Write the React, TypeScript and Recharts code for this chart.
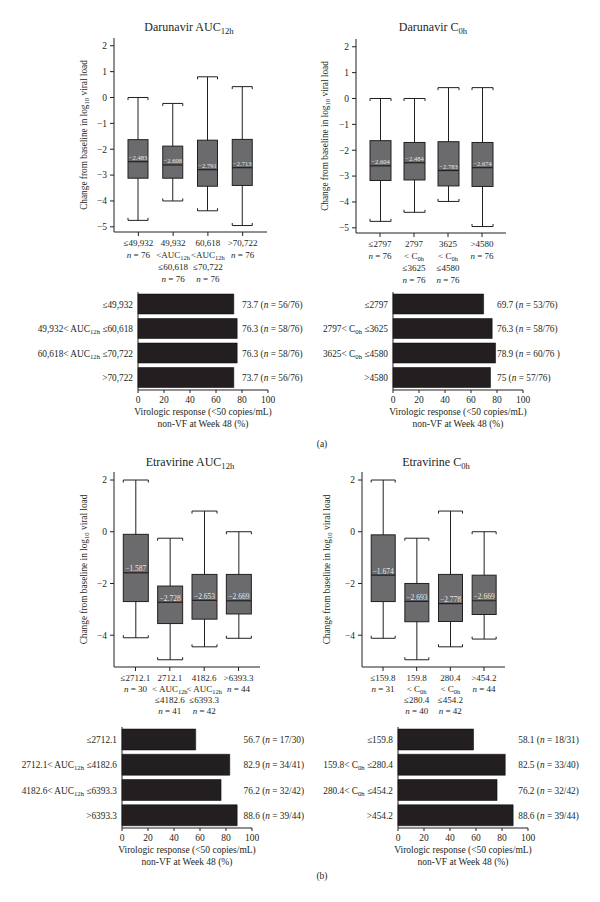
import React from "react"
import { Bar, BarChart, ComposedChart, LabelList, XAxis, YAxis } from "recharts"

const FONT = "'Liberation Serif', 'Times New Roman', serif"
const INK = "#231f20"
const BOX_FILL = "#6b6b6d"

// ---- Darunavir AUC12h ----
const darAucGroups = [
  ["≤49,932", "~n~ = 76"],
  ["49,932", "<AUC_{12h}", "≤60,618", "~n~ = 76"],
  ["60,618", "<AUC_{12h}", "≤70,722", "~n~ = 76"],
  [">70,722", "~n~ = 76"],
]
const darAucLow = [-4.75, -4.0, -4.38, -4.95]
const darAucQ1 = [-3.12, -3.12, -3.43, -3.4]
const darAucMedian = [-2.483, -2.608, -2.791, -2.713]
const darAucQ3 = [-1.63, -1.88, -1.65, -1.62]
const darAucHigh = [0, -0.23, 0.8, 0.42]
const darAucBands = ["≤49,932", "49,932< AUC_{12h} ≤60,618", "60,618< AUC_{12h} ≤70,722", ">70,722"]
const darAucResponse = [73.7, 76.3, 76.3, 73.7]
const darAucResponders = ["56/76", "58/76", "58/76", "56/76"]

// ---- Darunavir C0h ----
const darC0Groups = [
  ["≤2797", "~n~ = 76"],
  ["2797", "< C_{0h}", "≤3625", "~n~ = 76"],
  ["3625", "< C_{0h}", "≤4580", "~n~ = 76"],
  [">4580", "~n~ = 76"],
]
const darC0Low = [-4.75, -4.4, -3.98, -4.95]
const darC0Q1 = [-3.17, -3.15, -3.38, -3.4]
const darC0Median = [-2.604, -2.484, -2.783, -2.674]
const darC0Q3 = [-1.63, -1.7, -1.67, -1.7]
const darC0High = [0, 0, 0.42, 0.42]
const darC0Bands = ["≤2797", "2797< C_{0h} ≤3625", "3625< C_{0h} ≤4580", ">4580"]
const darC0Response = [69.7, 76.3, 78.9, 75]
const darC0Responders = ["53/76", "58/76", "60/76 ", "57/76"]

// ---- Etravirine AUC12h ----
const etrAucGroups = [
  ["≤2712.1", "~n~ = 30"],
  ["2712.1", "< AUC_{12h}", "≤4182.6", "~n~ = 41"],
  ["4182.6", "< AUC_{12h}", "≤6393.3", "~n~ = 42"],
  [">6393.3", "~n~ = 44"],
]
const etrAucLow = [-4.1, -4.95, -4.45, -4.12]
const etrAucQ1 = [-2.7, -3.55, -3.38, -3.18]
const etrAucMedian = [-1.587, -2.728, -2.653, -2.669]
const etrAucQ3 = [-0.1, -2.1, -1.65, -1.65]
const etrAucHigh = [2.0, -0.25, 0.8, 0]
const etrAucBands = ["≤2712.1", "2712.1< AUC_{12h} ≤4182.6", "4182.6< AUC_{12h} ≤6393.3", ">6393.3"]
const etrAucResponse = [56.7, 82.9, 76.2, 88.6]
const etrAucResponders = ["17/30", "34/41", "32/42", "39/44"]

// ---- Etravirine C0h ----
const etrC0Groups = [
  ["≤159.8", "~n~ = 31"],
  ["159.8", "< C_{0h}", "≤280.4", "~n~ = 40"],
  ["280.4", "< C_{0h}", "≤454.2", "~n~ = 42"],
  [">454.2", "~n~ = 44"],
]
const etrC0Low = [-4.12, -4.95, -4.45, -4.15]
const etrC0Q1 = [-2.7, -3.48, -3.47, -3.2]
const etrC0Median = [-1.674, -2.693, -2.778, -2.669]
const etrC0Q3 = [-0.12, -2.0, -1.65, -1.68]
const etrC0High = [2.0, -0.25, 0.8, 0]
const etrC0Bands = ["≤159.8", "159.8< C_{0h} ≤280.4", "280.4< C_{0h} ≤454.2", ">454.2"]
const etrC0Response = [58.1, 82.5, 76.2, 88.6]
const etrC0Responders = ["18/31", "33/40", "32/42", "39/44"]

const darTicks = [2, 1, 0, -1, -2, -3, -4, -5]
const etrTicks = [2, 0, -2, -4]
const pctTicks = [0, 20, 40, 60, 80, 100]
const yLabel = "Change from baseline in log_{10} viral load"
const xTitle = ["Virologic response (<50 copies/mL)", "non-VF at Week 48 (%)"]

// "_{..}" subscript, "~..~" italic
function rich(text: string, size: number) {
  const parts = text.split(/(_\{[^}]+\}|~[^~]+~)/).filter(Boolean)
  let shifted = false
  return parts.map((p, i) => {
    if (p.startsWith("_{")) {
      shifted = true
      return (
        <tspan key={i} dy={size * 0.22} fontSize={size * 0.72}>
          {p.slice(2, -1)}
        </tspan>
      )
    }
    const dy = shifted ? -size * 0.22 : undefined
    shifted = false
    if (p.startsWith("~"))
      return (
        <tspan key={i} dy={dy} fontStyle="italic">
          {p.slice(1, -1)}
        </tspan>
      )
    return (
      <tspan key={i} dy={dy}>
        {p}
      </tspan>
    )
  })
}

const minus = (v: number) => (v < 0 ? `−${Math.abs(v)}` : `${v}`)

function boxShape(medianFont: number) {
  return (props: any) => {
    const { x, width, payload } = props
    const top = Math.min(props.y, props.y + props.height)
    const bottom = Math.max(props.y, props.y + props.height)
    const { low, q1, median, q3, high } = payload
    const py = (v: number) => top + ((bottom - top) * (high - v)) / (high - low)
    const cx = x + width / 2
    const l = x
    const r = x + width
    const yHi = py(high)
    const yLo = py(low)
    const yQ1 = py(q1)
    const yQ3 = py(q3)
    const yMed = py(median)
    return (
      <g>
        <line x1={cx} x2={cx} y1={yHi} y2={yLo} stroke={INK} strokeWidth={1} />
        <path d={`M${l},${yHi + 2.5}V${yHi}H${r}V${yHi + 2.5}`} fill="none" stroke={INK} />
        <path d={`M${l},${yLo - 2.5}V${yLo}H${r}V${yLo - 2.5}`} fill="none" stroke={INK} />
        <rect x={l} y={yQ3} width={width} height={yQ1 - yQ3} fill={BOX_FILL} stroke={INK} strokeWidth={1} />
        <line x1={l} x2={r} y1={yMed} y2={yMed} stroke={INK} strokeWidth={1.2} />
        <text x={cx} y={yMed - 1.5} textAnchor="middle" fontSize={medianFont} fontFamily={FONT} fill="#e8e8e8">
          {minus(median)}
        </text>
      </g>
    )
  }
}

function BoxTick(props: any) {
  const { x, y, payload, gap } = props
  const lines = String(payload.value).split("|")
  return (
    <g>
      {lines.map((line, i) => (
        <text key={i} x={x} y={y + 8 + i * gap} textAnchor="middle" fontSize={9} fontFamily={FONT} fill={INK}>
          {rich(line, 9)}
        </text>
      ))}
    </g>
  )
}

function YTitle(props: any) {
  const vb = props.viewBox
  const cx = vb.x + vb.width - props.dist
  const cy = vb.y + vb.height / 2
  return (
    <text
      x={cx}
      y={cy}
      transform={`rotate(-90 ${cx} ${cy})`}
      textAnchor="middle"
      fontSize={9.3}
      fontFamily={FONT}
      fill={INK}
    >
      {rich(yLabel, 9.3)}
    </text>
  )
}

function XTitle(props: any) {
  const vb = props.viewBox
  const cx = vb.x + vb.width / 2
  return (
    <g>
      {xTitle.map((t, i) => (
        <text key={i} x={cx} y={vb.y + 25 + i * 11.5} textAnchor="middle" fontSize={9.5} fontFamily={FONT} fill={INK}>
          {t}
        </text>
      ))}
    </g>
  )
}

function BandTick(props: any) {
  const { x, y, payload } = props
  return (
    <text x={x} y={y + 3.5} textAnchor="end" fontSize={9.3} fontFamily={FONT} fill={INK}>
      {rich(String(payload.value), 9.3)}
    </text>
  )
}

type Frame = { left: number; top: number; width: number; height: number; mt: number; mr: number; yw: number; xh: number }

function BoxPlot(p: {
  groups: string[][]
  low: number[]
  q1: number[]
  median: number[]
  q3: number[]
  high: number[]
  ticks: number[]
  domain: [number, number]
  f: Frame
  pad: number
  barSize: number
  dist: number
  gap: number
  medianFont: number
}) {
  const data = p.groups.map((g, i) => ({
    name: g.join("|"),
    range: [p.low[i], p.high[i]],
    low: p.low[i],
    q1: p.q1[i],
    median: p.median[i],
    q3: p.q3[i],
    high: p.high[i],
  }))
  const f = p.f
  return (
    <div style={{ position: "absolute", left: f.left, top: f.top }}>
      <ComposedChart width={f.width} height={f.height} data={data} margin={{ top: f.mt, right: f.mr, left: 0, bottom: 0 }}>
        <XAxis
          dataKey="name"
          height={f.xh}
          interval={0}
          padding={{ left: p.pad, right: p.pad }}
          tickSize={4}
          tickMargin={2}
          stroke={INK}
          tick={<BoxTick gap={p.gap} />}
        />
        <XAxis xAxisId="t" orientation="top" dataKey="name" height={0} tick={false} tickLine={false} stroke={INK} />
        <YAxis
          type="number"
          domain={p.domain}
          ticks={p.ticks}
          interval={0}
          allowDataOverflow
          width={f.yw}
          tickSize={4}
          tickMargin={3}
          stroke={INK}
          tick={{ fontSize: 9.5, fill: INK, fontFamily: FONT }}
          tickFormatter={minus}
          label={<YTitle dist={p.dist} />}
        />
        <YAxis yAxisId="r" orientation="right" type="number" domain={p.domain} width={0} tick={false} tickLine={false} stroke={INK} />
        <Bar dataKey="range" barSize={p.barSize} shape={boxShape(p.medianFont)} isAnimationActive={false} />
      </ComposedChart>
    </div>
  )
}

function ResponseBars(p: { bands: string[]; response: number[]; responders: string[]; f: Frame; barSize: number; labelAt: number }) {
  const data = p.bands.map((b, i) => ({ band: b, pct: p.response[i] }))
  const f = p.f
  const renderValue = (props: any) => {
    const vb = props.viewBox ?? props
    const value = Number(props.value)
    const lx = vb.x + (vb.width * p.labelAt) / value
    const ly = vb.y + vb.height / 2 + 3.5
    return (
      <text x={lx} y={ly} fontSize={9.3} fontFamily={FONT} fill={INK}>
        {rich(`${props.value} (~n~ = ${p.responders[props.index]})`, 9.3)}
      </text>
    )
  }
  return (
    <div style={{ position: "absolute", left: f.left, top: f.top }}>
      <BarChart layout="vertical" width={f.width} height={f.height} data={data} margin={{ top: f.mt, right: f.mr, left: 0, bottom: 0 }}>
        <XAxis
          type="number"
          domain={[0, 100]}
          ticks={pctTicks}
          height={f.xh}
          tickSize={3}
          tickMargin={3}
          stroke={INK}
          tick={{ fontSize: 9.5, fill: INK, fontFamily: FONT }}
          label={<XTitle />}
        />
        <YAxis type="category" dataKey="band" width={f.yw} interval={0} tickLine={false} tickSize={0} tickMargin={5} stroke={INK} tick={<BandTick />} />
        <Bar dataKey="pct" fill={INK} stroke="#000" strokeWidth={0.5} barSize={p.barSize} isAnimationActive={false}>
          <LabelList dataKey="pct" content={renderValue} />
        </Bar>
      </BarChart>
    </div>
  )
}

function Title(props: { x: number; y: number; text: string; size: number }) {
  return (
    <text x={props.x} y={props.y} textAnchor="middle" fontSize={props.size} fontFamily={FONT} fill={INK}>
      {rich(props.text, props.size)}
    </text>
  )
}

export default function App() {
  return (
    <div style={{ position: "absolute", left: 0, top: 0, width: 600, height: 902, background: "#fff", overflow: "hidden" }}>
      <BoxPlot
        groups={darAucGroups}
        low={darAucLow}
        q1={darAucQ1}
        median={darAucMedian}
        q3={darAucQ3}
        high={darAucHigh}
        ticks={darTicks}
        domain={[-5.2, 2.3]}
        f={{ left: 40, top: 0, width: 260, height: 300, mt: 38, mr: 33, yw: 74, xh: 68 }}
        pad={7}
        barSize={20}
        dist={27}
        gap={12}
        medianFont={6.5}
      />
      <BoxPlot
        groups={darC0Groups}
        low={darC0Low}
        q1={darC0Q1}
        median={darC0Median}
        q3={darC0Q3}
        high={darC0High}
        ticks={darTicks}
        domain={[-5.2, 2.3]}
        f={{ left: 290, top: 0, width: 260, height: 300, mt: 39, mr: 44, yw: 66, xh: 67 }}
        pad={7}
        barSize={21}
        dist={28}
        gap={12}
        medianFont={6.5}
      />
      <ResponseBars
        bands={darAucBands}
        response={darAucResponse}
        responders={darAucResponders}
        f={{ left: 0, top: 285, width: 320, height: 150, mt: 7, mr: 52, yw: 138, xh: 45 }}
        barSize={20}
        labelAt={80}
      />
      <ResponseBars
        bands={darC0Bands}
        response={darC0Response}
        responders={darC0Responders}
        f={{ left: 300, top: 285, width: 300, height: 150, mt: 7, mr: 77, yw: 93, xh: 45 }}
        barSize={20}
        labelAt={80}
      />
      <BoxPlot
        groups={etrAucGroups}
        low={etrAucLow}
        q1={etrAucQ1}
        median={etrAucMedian}
        q3={etrAucQ3}
        high={etrAucHigh}
        ticks={etrTicks}
        domain={[-5.23, 2.31]}
        f={{ left: 40, top: 440, width: 260, height: 300, mt: 32, mr: 40, yw: 74, xh: 73 }}
        pad={4.3}
        barSize={25}
        dist={27}
        gap={11}
        medianFont={7.5}
      />
      <BoxPlot
        groups={etrC0Groups}
        low={etrC0Low}
        q1={etrC0Q1}
        median={etrC0Median}
        q3={etrC0Q3}
        high={etrC0High}
        ticks={etrTicks}
        domain={[-5.23, 2.31]}
        f={{ left: 290, top: 440, width: 260, height: 300, mt: 32, mr: 45, yw: 72, xh: 73 }}
        pad={4.2}
        barSize={24}
        dist={32}
        gap={11}
        medianFont={7.5}
      />
      <ResponseBars
        bands={etrAucBands}
        response={etrAucResponse}
        responders={etrAucResponders}
        f={{ left: 0, top: 720, width: 320, height: 150, mt: 7, mr: 68, yw: 122, xh: 42 }}
        barSize={21}
        labelAt={93.5}
      />
      <ResponseBars
        bands={etrC0Bands}
        response={etrC0Response}
        responders={etrC0Responders}
        f={{ left: 300, top: 720, width: 300, height: 150, mt: 7, mr: 72, yw: 98, xh: 42 }}
        barSize={21}
        labelAt={92.5}
      />
      <svg width={600} height={902} style={{ position: "absolute", left: 0, top: 0, pointerEvents: "none" }}>
        <Title x={189} y={31} text="Darunavir AUC_{12h}" size={12} />
        <Title x={433} y={31} text="Darunavir C_{0h}" size={12} />
        <Title x={190} y={466} text="Etravirine AUC_{12h}" size={12} />
        <Title x={436} y={466} text="Etravirine C_{0h}" size={12} />
        <Title x={322} y={447} text="(a)" size={9.5} />
        <Title x={322} y={879} text="(b)" size={9.5} />
      </svg>
    </div>
  )
}
